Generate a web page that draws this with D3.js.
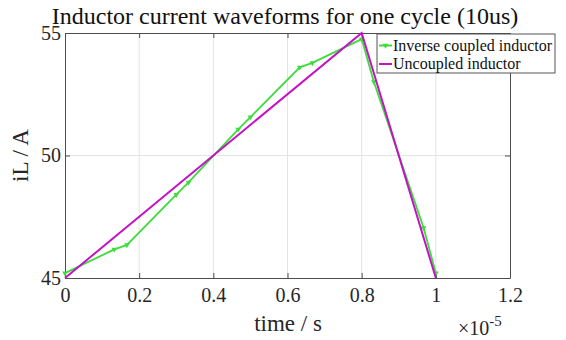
<!DOCTYPE html>
<html lang="en">
<head>
<meta charset="UTF-8">
<title>Inductor current waveforms</title>
<script src="https://d3js.org/d3.v7.min.js"></script>
<style>
    body { margin: 0; background: #fff; }
</style>
</head>
<body>
<div id="chart"></div>
<script>
// time in units of 1e-5 s
const coupledTime = [0, 0.133, 0.167, 0.3, 0.333, 0.467, 0.5, 0.633, 0.667, 0.8, 0.833, 0.967, 1.0];
const coupledCurrent = [45.2, 46.17, 46.35, 48.4, 48.9, 51.07, 51.57, 53.6, 53.78, 54.75, 53.0, 47.05, 45.2];
const uncoupledTime = [0, 0.8, 1.0];
const uncoupledCurrent = [45, 55, 45];
const xTicks = [0, 0.2, 0.4, 0.6, 0.8, 1, 1.2];
const yTicks = [45, 50, 55];
const seriesNames = ["Inverse coupled inductor", "Uncoupled inductor"];

const FONT = "Liberation Serif";
const W = 566, H = 340;
const margin = { top: 33, right: 56, bottom: 62, left: 65 };
const width = W - margin.left - margin.right,
      height = H - margin.top - margin.bottom;

const svg = d3.select("#chart").append("svg")
    .attr("width", W).attr("height", H)
    .attr("font-family", FONT);

const g = svg.append("g")
    .attr("transform", `translate(${margin.left},${margin.top})`);

const x = d3.scaleLinear().domain([0, 1.2]).range([0, width]);
const y = d3.scaleLinear().domain([45, 55]).range([height, 0]);

// grid
g.append("g").selectAll("line").data(xTicks.slice(1, -1)).join("line")
    .attr("x1", d => x(d)).attr("x2", d => x(d))
    .attr("y1", 0).attr("y2", height)
    .attr("stroke", "#e3e3e3").attr("stroke-width", 1);
g.append("g").selectAll("line").data(yTicks.slice(1, -1)).join("line")
    .attr("x1", 0).attr("x2", width)
    .attr("y1", d => y(d)).attr("y2", d => y(d))
    .attr("stroke", "#e3e3e3").attr("stroke-width", 1);

// axes (ticks inward, MATLAB box)
const axisColor = "#4d4d4d";
function styleAxis(sel) {
    sel.attr("font-family", FONT).attr("font-size", 20);
    sel.select(".domain").attr("stroke", axisColor);
    sel.selectAll(".tick line").attr("stroke", axisColor);
    sel.selectAll(".tick text").attr("font-family", FONT).attr("fill", "#262626");
}
g.append("g").attr("transform", `translate(0,${height})`)
    .call(d3.axisBottom(x).tickValues(xTicks).tickFormat(d3.format("")).tickSizeInner(-5).tickSizeOuter(0).tickPadding(10))
    .call(styleAxis);
g.append("g")
    .call(d3.axisLeft(y).tickValues(yTicks).tickSizeInner(-5).tickSizeOuter(0).tickPadding(4))
    .call(styleAxis);
g.append("g")
    .call(d3.axisTop(x).tickValues(xTicks).tickFormat("").tickSizeInner(-5).tickSizeOuter(0))
    .call(styleAxis);
g.append("g").attr("transform", `translate(${width},0)`)
    .call(d3.axisRight(y).tickValues(yTicks).tickFormat("").tickSizeInner(-5).tickSizeOuter(0))
    .call(styleAxis);

// series
const green = "#3ddc3d", magenta = "#c412c4";
const line = d3.line().x(d => x(d[0])).y(d => y(d[1]));
const coupled = coupledTime.map((t, i) => [t, coupledCurrent[i]]);
const uncoupled = uncoupledTime.map((t, i) => [t, uncoupledCurrent[i]]);
const marker = d3.symbol(d3.symbolTriangle, 14)();

g.append("path").datum(coupled)
    .attr("fill", "none").attr("stroke", green).attr("stroke-width", 1.8).attr("d", line);
g.selectAll(".mk").data(coupled).join("path").attr("class", "mk")
    .attr("transform", d => `translate(${x(d[0])},${y(d[1])}) rotate(180)`)
    .attr("d", marker)
    .attr("fill", green);

g.append("path").datum(uncoupled)
    .attr("fill", "none").attr("stroke", magenta).attr("stroke-width", 2).attr("d", line);

// title and labels
svg.append("text")
    .attr("x", 285).attr("y", 24)
    .attr("text-anchor", "middle").attr("font-size", 24).attr("fill", "#111")
    .attr("font-family", FONT)
    .text("Inductor current waveforms for one cycle (10us)");

svg.append("text")
    .attr("x", 288).attr("y", 331)
    .attr("text-anchor", "middle").attr("font-size", 23).attr("fill", "#262626")
    .attr("font-family", FONT)
    .text("time / s");

svg.append("text")
    .attr("transform", `translate(28,${margin.top + height / 2}) rotate(-90)`)
    .attr("text-anchor", "middle").attr("font-size", 23).attr("fill", "#262626")
    .attr("font-family", FONT)
    .text("iL / A");

const expo = svg.append("text")
    .attr("x", 458).attr("y", 335)
    .attr("font-size", 20).attr("fill", "#262626").attr("font-family", FONT);
expo.append("tspan").text("\u00d710");
expo.append("tspan").attr("dy", -9).attr("font-size", 15).text("-5");

// legend
const lg = svg.append("g").attr("transform", "translate(377,34)");
lg.append("rect").attr("width", 178).attr("height", 39)
    .attr("fill", "#fff").attr("stroke", "#555").attr("stroke-width", 1);
const colors = [green, magenta];
seriesNames.forEach((name, i) => {
    const yy = 11.5 + i * 18.5;
    lg.append("line").attr("x1", 2).attr("x2", 15).attr("y1", yy).attr("y2", yy)
        .attr("stroke", colors[i]).attr("stroke-width", 2);
    if (i === 0) {
        lg.append("path").attr("transform", `translate(8.5,${yy}) rotate(180)`)
            .attr("d", marker).attr("fill", colors[i]);
    }
    lg.append("text").attr("x", 16).attr("y", yy + 5)
        .attr("font-size", 16).attr("fill", "#111").attr("font-family", FONT).text(name);
});
</script>
</body>
</html>
